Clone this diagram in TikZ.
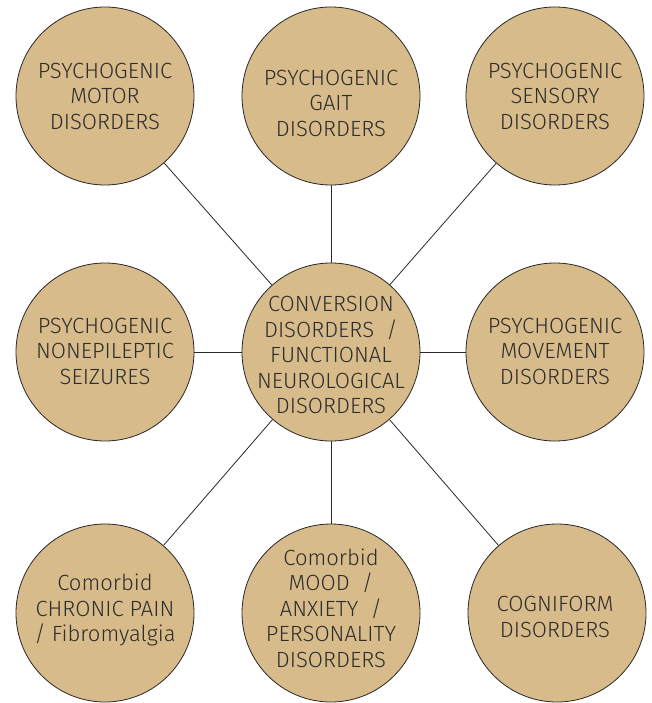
\documentclass[tikz,border=0pt]{standalone}
\usepackage{fontspec}
\setmainfont{Fira Sans}[UprightFont=* Light]
\definecolor{tan}{RGB}{216,187,138}
\definecolor{txt}{RGB}{45,45,45}
\definecolor{ln}{RGB}{40,40,40}
\begin{document}
\begin{tikzpicture}[x=1pt,y=-1pt,
  bubble/.style={circle,draw=ln,fill=tan,line width=0.8pt,minimum size=178pt,inner sep=0pt},
  lbl/.style={align=center,text=txt,font=\fontsize{22}{25.5}\selectfont},
  link/.style={draw=ln,line width=0.8pt}]
\useasboundingbox (0,0) rectangle (651,703);
\node[bubble] (tl) at (105,96) {};
\node[bubble] (tm) at (331,96) {};
\node[bubble] (tr) at (555,96) {};
\node[bubble] (ml) at (105,352) {};
\node[bubble] (c)  at (331,352) {};
\node[bubble] (mr) at (555,352) {};
\node[bubble] (bl) at (105,613) {};
\node[bubble] (bm) at (331,613) {};
\node[bubble] (br) at (557,613) {};
\foreach \n in {tl,tm,tr,ml,mr,bl,bm,br} \draw[link] (c) -- (\n);
\node[lbl] (tlt) at (105,96) {PSYCHOGENIC\\MOTOR\\DISORDERS};
\node[lbl] (tmt) at (331,103) {PSYCHOGENIC\\GAIT\\DISORDERS};
\node[lbl] (trt) at (555,96) {PSYCHOGENIC\\SENSORY\\DISORDERS};
\node[lbl] (mlt) at (105,351) {PSYCHOGENIC\\NONEPILEPTIC\\SEIZURES};
\node[lbl] (ct)  at (331,355) {CONVERSION\\DISORDERS~~/\\FUNCTIONAL\\NEUROLOGICAL\\DISORDERS};
\node[lbl] (mrt) at (555,351) {PSYCHOGENIC\\MOVEMENT\\DISORDERS};
\node[lbl] (blt) at (105,610) {Comorbid\\CHRONIC PAIN\\/ Fibromyalgia};
\node[lbl] (bmt) at (331,608) {Comorbid\\MOOD~~/\\ANXIETY~~/\\PERSONALITY\\DISORDERS};
\node[lbl] (brt) at (555,617) {COGNIFORM\\DISORDERS};
\end{tikzpicture}
\end{document}
